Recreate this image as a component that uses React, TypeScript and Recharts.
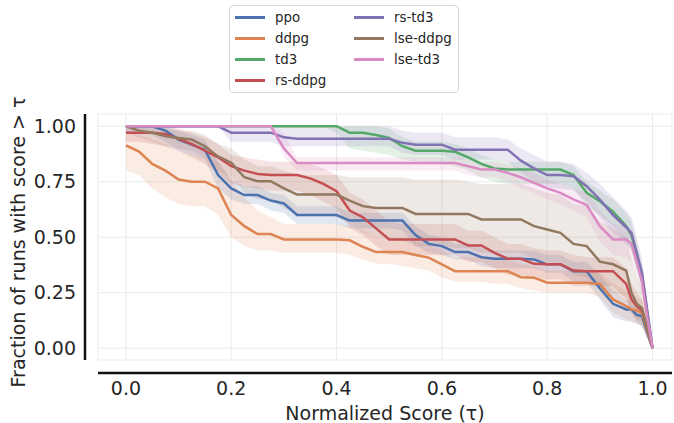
import React from 'react'
import {
	Area,
	CartesianGrid,
	ComposedChart,
	Legend,
	Line,
	XAxis,
	YAxis
} from 'recharts'

const tau = [
	0, 0.025, 0.05, 0.075, 0.1, 0.125, 0.15, 0.175, 0.2, 0.225, 0.25, 0.275, 0.3, 0.325, 0.35,
	0.375, 0.4, 0.425, 0.45, 0.475, 0.5, 0.525, 0.55, 0.575, 0.6, 0.625, 0.65, 0.675, 0.7, 0.725,
	0.75, 0.775, 0.8, 0.825, 0.85, 0.875, 0.9, 0.925, 0.95, 0.96, 0.97, 0.98, 0.99, 1.0
]

const xTicks = [0, 0.2, 0.4, 0.6, 0.8, 1.0]
const yTicks = [0, 0.25, 0.5, 0.75, 1.0]

// ppo
const ppoMean = [1.0, 1.0, 1.0, 0.98, 0.94, 0.917, 0.894, 0.78, 0.72, 0.69, 0.69, 0.665, 0.652, 0.6, 0.6, 0.6, 0.6, 0.575, 0.575, 0.575, 0.575, 0.575, 0.51, 0.47, 0.46, 0.433, 0.433, 0.41, 0.403, 0.403, 0.403, 0.4, 0.378, 0.378, 0.347, 0.347, 0.27, 0.2, 0.175, 0.175, 0.15, 0.145, 0.07, 0]
const ppoHi = [1, 1, 1, 1, 0.98, 0.96, 0.94, 0.84, 0.76, 0.73, 0.73, 0.7, 0.69, 0.64, 0.64, 0.64, 0.64, 0.61, 0.61, 0.61, 0.61, 0.61, 0.55, 0.51, 0.5, 0.47, 0.47, 0.45, 0.44, 0.44, 0.44, 0.44, 0.42, 0.42, 0.39, 0.39, 0.33, 0.26, 0.22, 0.21, 0.19, 0.18, 0.1, 0]
const ppoLo = [0.97, 0.97, 0.96, 0.93, 0.89, 0.87, 0.85, 0.72, 0.67, 0.65, 0.65, 0.62, 0.61, 0.56, 0.56, 0.56, 0.56, 0.54, 0.54, 0.54, 0.54, 0.53, 0.46, 0.43, 0.42, 0.4, 0.4, 0.37, 0.36, 0.36, 0.36, 0.36, 0.34, 0.34, 0.3, 0.3, 0.22, 0.14, 0.12, 0.12, 0.11, 0.1, 0.04, 0]

// ddpg
const ddpgMean = [0.914, 0.886, 0.83, 0.8, 0.76, 0.75, 0.75, 0.72, 0.6, 0.55, 0.514, 0.514, 0.49, 0.49, 0.49, 0.49, 0.49, 0.486, 0.457, 0.433, 0.433, 0.433, 0.42, 0.408, 0.378, 0.347, 0.347, 0.347, 0.347, 0.347, 0.32, 0.318, 0.295, 0.295, 0.295, 0.295, 0.29, 0.22, 0.19, 0.175, 0.17, 0.16, 0.08, 0]
const ddpgHi = [0.97, 0.96, 0.94, 0.92, 0.89, 0.87, 0.86, 0.84, 0.76, 0.68, 0.62, 0.59, 0.56, 0.56, 0.56, 0.56, 0.56, 0.55, 0.53, 0.5, 0.49, 0.49, 0.48, 0.47, 0.44, 0.41, 0.41, 0.41, 0.41, 0.4, 0.38, 0.37, 0.35, 0.35, 0.35, 0.35, 0.34, 0.29, 0.26, 0.24, 0.23, 0.22, 0.12, 0]
const ddpgLo = [0.8, 0.78, 0.72, 0.68, 0.65, 0.64, 0.64, 0.6, 0.5, 0.46, 0.44, 0.44, 0.43, 0.43, 0.43, 0.43, 0.43, 0.42, 0.4, 0.38, 0.38, 0.37, 0.36, 0.35, 0.32, 0.3, 0.3, 0.3, 0.29, 0.29, 0.27, 0.26, 0.25, 0.25, 0.25, 0.25, 0.23, 0.16, 0.13, 0.12, 0.11, 0.1, 0.04, 0]

// td3
const td3Mean = [1, 1, 1, 1, 1, 1, 1, 1, 1, 1, 1, 1, 1, 1, 1, 1, 1, 0.971, 0.971, 0.96, 0.947, 0.91, 0.89, 0.89, 0.89, 0.885, 0.86, 0.83, 0.81, 0.805, 0.805, 0.805, 0.805, 0.805, 0.78, 0.7, 0.662, 0.615, 0.55, 0.51, 0.42, 0.33, 0.16, 0]
const td3Hi = [1, 1, 1, 1, 1, 1, 1, 1, 1, 1, 1, 1, 1, 1, 1, 1, 1, 1, 1, 1, 0.99, 0.95, 0.93, 0.93, 0.93, 0.92, 0.9, 0.87, 0.85, 0.84, 0.84, 0.84, 0.84, 0.84, 0.82, 0.75, 0.71, 0.67, 0.61, 0.57, 0.48, 0.38, 0.2, 0]
const td3Lo = [1, 1, 1, 1, 1, 1, 1, 1, 1, 1, 1, 1, 1, 1, 1, 1, 0.97, 0.9, 0.89, 0.88, 0.87, 0.85, 0.84, 0.84, 0.83, 0.82, 0.8, 0.77, 0.75, 0.74, 0.74, 0.74, 0.74, 0.74, 0.72, 0.64, 0.6, 0.55, 0.48, 0.44, 0.35, 0.27, 0.12, 0]

// rs-ddpg
const rsDdpgMean = [0.971, 0.971, 0.971, 0.965, 0.943, 0.92, 0.89, 0.86, 0.82, 0.8, 0.785, 0.78, 0.78, 0.78, 0.765, 0.74, 0.707, 0.62, 0.59, 0.54, 0.49, 0.49, 0.49, 0.49, 0.49, 0.49, 0.463, 0.463, 0.43, 0.403, 0.403, 0.38, 0.378, 0.378, 0.35, 0.347, 0.347, 0.347, 0.29, 0.22, 0.19, 0.17, 0.09, 0]
const rsDdpgHi = [1, 1, 1, 1, 0.99, 0.97, 0.95, 0.92, 0.87, 0.86, 0.85, 0.84, 0.84, 0.84, 0.83, 0.81, 0.78, 0.7, 0.67, 0.62, 0.57, 0.56, 0.56, 0.56, 0.56, 0.56, 0.53, 0.53, 0.5, 0.47, 0.47, 0.45, 0.44, 0.44, 0.42, 0.41, 0.41, 0.41, 0.36, 0.29, 0.25, 0.22, 0.12, 0]
const rsDdpgLo = [0.93, 0.93, 0.92, 0.91, 0.89, 0.86, 0.83, 0.79, 0.74, 0.73, 0.72, 0.71, 0.71, 0.71, 0.69, 0.66, 0.63, 0.54, 0.51, 0.46, 0.42, 0.42, 0.42, 0.42, 0.42, 0.42, 0.39, 0.39, 0.36, 0.33, 0.33, 0.31, 0.31, 0.31, 0.28, 0.28, 0.28, 0.28, 0.22, 0.16, 0.13, 0.12, 0.06, 0]

// rs-td3
const rsTd3Mean = [1, 1, 1, 1, 1, 1, 1, 1, 0.971, 0.971, 0.971, 0.971, 0.95, 0.943, 0.943, 0.943, 0.943, 0.943, 0.943, 0.943, 0.943, 0.925, 0.917, 0.917, 0.917, 0.894, 0.894, 0.894, 0.894, 0.894, 0.845, 0.81, 0.78, 0.78, 0.775, 0.73, 0.67, 0.6, 0.545, 0.52, 0.43, 0.34, 0.17, 0]
const rsTd3Hi = [1, 1, 1, 1, 1, 1, 1, 1, 1, 1, 1, 1, 1, 1, 1, 1, 1, 1, 1, 1, 1, 0.98, 0.97, 0.97, 0.97, 0.95, 0.95, 0.95, 0.95, 0.94, 0.9, 0.87, 0.84, 0.84, 0.83, 0.79, 0.74, 0.68, 0.62, 0.59, 0.5, 0.4, 0.21, 0]
const rsTd3Lo = [1, 1, 1, 1, 1, 1, 1, 1, 0.93, 0.93, 0.93, 0.93, 0.91, 0.91, 0.91, 0.91, 0.91, 0.91, 0.91, 0.91, 0.91, 0.88, 0.87, 0.87, 0.87, 0.85, 0.85, 0.85, 0.85, 0.84, 0.79, 0.75, 0.72, 0.72, 0.71, 0.66, 0.59, 0.52, 0.47, 0.44, 0.36, 0.28, 0.13, 0]

// lse-ddpg
const lseDdpgMean = [1, 0.98, 0.971, 0.955, 0.947, 0.94, 0.91, 0.864, 0.835, 0.77, 0.752, 0.752, 0.72, 0.692, 0.692, 0.692, 0.692, 0.665, 0.64, 0.632, 0.632, 0.632, 0.605, 0.605, 0.605, 0.605, 0.605, 0.58, 0.58, 0.58, 0.58, 0.55, 0.535, 0.52, 0.47, 0.46, 0.39, 0.378, 0.35, 0.25, 0.2, 0.18, 0.09, 0]
const lseDdpgHi = [1, 1, 1, 0.99, 0.98, 0.98, 0.96, 0.92, 0.9, 0.85, 0.82, 0.82, 0.8, 0.78, 0.78, 0.78, 0.78, 0.77, 0.77, 0.77, 0.77, 0.77, 0.76, 0.76, 0.76, 0.76, 0.75, 0.74, 0.74, 0.74, 0.74, 0.72, 0.7, 0.69, 0.65, 0.64, 0.57, 0.54, 0.5, 0.4, 0.32, 0.27, 0.14, 0]
const lseDdpgLo = [0.97, 0.95, 0.93, 0.91, 0.9, 0.89, 0.86, 0.8, 0.77, 0.7, 0.67, 0.67, 0.63, 0.6, 0.6, 0.6, 0.59, 0.56, 0.52, 0.5, 0.49, 0.49, 0.46, 0.46, 0.46, 0.45, 0.45, 0.43, 0.43, 0.43, 0.43, 0.4, 0.39, 0.38, 0.33, 0.32, 0.26, 0.25, 0.23, 0.16, 0.12, 0.1, 0.05, 0]

// lse-td3
const lseTd3Mean = [1, 1, 1, 1, 1, 1, 1, 1, 1, 1, 1, 1, 0.9, 0.834, 0.834, 0.834, 0.834, 0.834, 0.834, 0.834, 0.834, 0.834, 0.834, 0.834, 0.834, 0.834, 0.82, 0.805, 0.805, 0.79, 0.77, 0.745, 0.72, 0.7, 0.67, 0.645, 0.55, 0.49, 0.49, 0.47, 0.39, 0.3, 0.14, 0]
const lseTd3Hi = [1, 1, 1, 1, 1, 1, 1, 1, 1, 1, 1, 1, 0.97, 0.86, 0.86, 0.86, 0.86, 0.86, 0.86, 0.86, 0.86, 0.86, 0.86, 0.86, 0.86, 0.86, 0.85, 0.84, 0.84, 0.83, 0.81, 0.79, 0.76, 0.74, 0.72, 0.7, 0.62, 0.56, 0.55, 0.53, 0.45, 0.35, 0.17, 0]
const lseTd3Lo = [1, 1, 1, 1, 1, 1, 1, 1, 1, 1, 1, 1, 0.86, 0.8, 0.8, 0.8, 0.8, 0.8, 0.8, 0.8, 0.8, 0.8, 0.8, 0.8, 0.8, 0.8, 0.78, 0.77, 0.77, 0.75, 0.72, 0.7, 0.67, 0.65, 0.62, 0.59, 0.48, 0.42, 0.41, 0.39, 0.32, 0.24, 0.1, 0]

const series = [
	{ key: 'ppo', color: '#4C72B0', mean: ppoMean, lo: ppoLo, hi: ppoHi },
	{ key: 'ddpg', color: '#DD8452', mean: ddpgMean, lo: ddpgLo, hi: ddpgHi },
	{ key: 'td3', color: '#55A868', mean: td3Mean, lo: td3Lo, hi: td3Hi },
	{ key: 'rs-ddpg', color: '#C44E52', mean: rsDdpgMean, lo: rsDdpgLo, hi: rsDdpgHi },
	{ key: 'rs-td3', color: '#8172B3', mean: rsTd3Mean, lo: rsTd3Lo, hi: rsTd3Hi },
	{ key: 'lse-ddpg', color: '#937860', mean: lseDdpgMean, lo: lseDdpgLo, hi: lseDdpgHi },
	{ key: 'lse-td3', color: '#DA8BC3', mean: lseTd3Mean, lo: lseTd3Lo, hi: lseTd3Hi }
]

const rows = tau.map((t, i) => {
	const row: Record<string, number | number[]> = { tau: t }
	series.forEach((s) => {
		row[s.key] = s.mean[i]
		row[s.key + '_band'] = [s.lo[i], s.hi[i]]
	})
	return row
})

const FONT = '"DejaVu Sans", sans-serif'

function LegendBox() {
	return (
		<div
			style={{
				position: 'relative',
				width: 230,
				height: 88,
				boxSizing: 'border-box',
				border: '1px solid #d9d9d9',
				borderRadius: 4,
				background: 'rgba(255,255,255,0.85)',
				fontFamily: FONT,
				fontSize: 13.4,
				color: '#262626'
			}}
		>
			{series.map((s, i) => {
				const col = i < 4 ? 0 : 1
				const r = i < 4 ? i : i - 4
				return (
					<div
						key={s.key}
						style={{
							position: 'absolute',
							left: col === 0 ? 5 : 124,
							top: 1 + r * 21,
							height: 21,
							display: 'flex',
							alignItems: 'center'
						}}
					>
						<div style={{ width: 30, height: 3, background: s.color }} />
						<span style={{ marginLeft: 10 }}>{s.key}</span>
					</div>
				)
			})}
		</div>
	)
}

export default function App() {
	return (
		<div style={{ position: 'absolute', left: 0, top: 0, width: 674, height: 423, background: '#fff', fontFamily: FONT }}>
			<ComposedChart
				width={674}
				height={423}
				data={rows}
				margin={{ top: 114, right: 2, bottom: 0, left: 0 }}
			>
				<CartesianGrid stroke="#ebebeb" strokeWidth={1} />
				<XAxis
					dataKey="tau"
					type="number"
					domain={[-0.053, 1.037]}
					ticks={xTicks}
					tickFormatter={(v: number) => v.toFixed(1)}
					allowDataOverflow
					height={63}
					tickLine={false}
					tickMargin={16}
					axisLine={{ stroke: '#111', strokeWidth: 2.5, transform: 'translate(0,13)' }}
					tick={{ fontSize: 19, fill: '#262626', fontFamily: FONT }}
					label={{
						value: 'Normalized Score (τ)',
						position: 'insideBottom',
						offset: 3,
						fontSize: 19,
						fill: '#262626',
						fontFamily: FONT
					}}
				/>
				<YAxis
					type="number"
					domain={[-0.053, 1.055]}
					ticks={yTicks}
					tickFormatter={(v: number) => v.toFixed(2)}
					allowDataOverflow
					width={98}
					tickLine={false}
					tickMargin={16}
					axisLine={{ stroke: '#111', strokeWidth: 2.5, transform: 'translate(-13,0)' }}
					tick={{ fontSize: 19, fill: '#262626', fontFamily: FONT }}
					label={{
						content: (props: any) => {
							const vb = props.viewBox || { x: 0, y: 114, width: 98, height: 246 }
							const cx = 18
							const cy = vb.y + vb.height / 2 + 5
							return (
								<text
									x={cx}
									y={cy}
									transform={`rotate(-90 ${cx} ${cy})`}
									textAnchor="middle"
									dominantBaseline="central"
									fontSize={19}
									fill="#262626"
									fontFamily={FONT}
								>
									Fraction of runs with score &gt; τ
								</text>
							)
						}
					}}
				/>
				{series.map((s) => (
					<Area
						key={s.key + '_band'}
						type="linear"
						dataKey={s.key + '_band'}
						stroke="none"
						fill={s.color}
						fillOpacity={0.16}
						activeDot={false}
						legendType="none"
						isAnimationActive={false}
					/>
				))}
				{series.map((s) => (
					<Line
						key={s.key}
						type="linear"
						dataKey={s.key}
						stroke={s.color}
						strokeWidth={2.5}
						dot={false}
						activeDot={false}
						isAnimationActive={false}
					/>
				))}
				<Legend
					layout="vertical"
					align="center"
					verticalAlign="middle"
					wrapperStyle={{ position: 'absolute', left: 229, top: 5, width: 230, height: 88 }}
					content={() => <LegendBox />}
				/>
			</ComposedChart>
		</div>
	)
}
